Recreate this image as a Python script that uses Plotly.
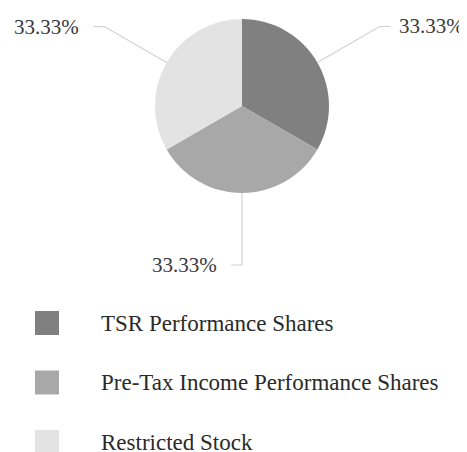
import math
import plotly.graph_objects as go

# data
labels = ['TSR Performance Shares', 'Pre-Tax Income Performance Shares', 'Restricted Stock']
values = [33.33, 33.33, 33.34]
pct_text = ['33.33%', '33.33%', '33.33%']
colors = ['#808080', '#a8a8a8', '#e3e3e3']

# page has an 8px body margin, so the figure is drawn 8px in from the corner
OFF = 8
W, H = 467 - OFF, 452 - OFF
FONT = 'Liberation Serif'

# pie placement in window pixels
cx, cy, r = 242, 106, 87


def px(x):
    return (x - OFF) / W


def py(y):
    return 1 - (y - OFF) / H


fig = go.Figure()
fig.add_trace(go.Pie(
    labels=labels, values=values,
    marker=dict(colors=colors, line=dict(width=0)),
    sort=False, direction='clockwise', rotation=0,
    textinfo='none', hoverinfo='label+percent',
    showlegend=False,
    domain=dict(x=[px(cx - r), px(cx + r)], y=[py(cy + r), py(cy - r)]),
))

# leader lines + percentage labels, angles from the data
total = sum(values)
cum = 0
for v, t in zip(values, pct_text):
    mid = (cum + v / 2) / total * 2 * math.pi
    cum += v
    s, c = math.sin(mid), math.cos(mid)
    x0, y0 = cx + r * s, cy - r * c
    x1, y1 = cx + (r + 72) * s, cy - (r + 72) * c
    d = 1 if s > 0.05 else -1   # bottom label goes to the left
    x2 = x1 + 11 * d
    gap = 6 if d > 0 else 12
    fig.add_shape(type='path', xref='paper', yref='paper',
                  path=f'M {px(x0)},{py(y0)} L {px(x1)},{py(y1)} L {px(x2)},{py(y1)}',
                  line=dict(color='#d2d2d2', width=1.2))
    fig.add_annotation(x=px(x2 + gap * d), y=py(y1), xref='paper', yref='paper',
                       text=t, showarrow=False,
                       xanchor='left' if d > 0 else 'right', yanchor='middle',
                       font=dict(family=FONT, size=21, color='#3a3a3a'))

# legend drawn by hand
for i, (lab, col) in enumerate(zip(labels, colors)):
    yc = 323 + i * 59.5
    fig.add_shape(type='rect', xref='paper', yref='paper',
                  x0=px(35), x1=px(59), y0=py(yc - 12), y1=py(yc + 12),
                  fillcolor=col, line=dict(width=0))
    fig.add_annotation(x=px(99), y=py(yc), xref='paper', yref='paper',
                       text=lab, showarrow=False, xanchor='left', yanchor='middle',
                       font=dict(family=FONT, size=23, color='#2a2a2a'))

fig.update_layout(
    width=W, height=H,
    margin=dict(l=0, r=0, t=0, b=0),
    font=dict(family=FONT),
    paper_bgcolor='white', plot_bgcolor='white',
)

fig.write_html("out.html")
